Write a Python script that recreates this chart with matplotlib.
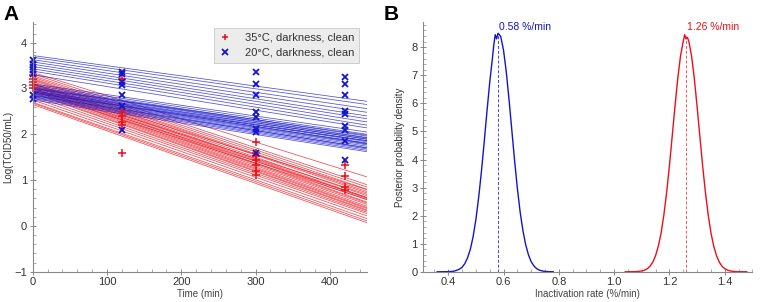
import numpy as np
import matplotlib
matplotlib.use('Agg')
import matplotlib.pyplot as plt
from matplotlib.ticker import MultipleLocator

# ---- panel A: observed titres ----
red_t = [0, 0, 0, 0, 0, 120, 120, 120, 120, 120, 120, 300, 300, 300, 300, 300, 300, 300, 420, 420, 420, 420]
red_y = [3.3, 3.21, 3.14, 3.07, 3.0, 3.21, 2.48, 2.4, 2.26, 2.2, 1.6, 1.84, 1.6, 1.52, 1.45, 1.34, 1.19, 1.12, 1.34, 1.08, 0.84, 0.79]
blue_t = [0, 0, 0, 0, 0, 0, 0, 120, 120, 120, 120, 120, 120, 120, 300, 300, 300, 300, 300, 300, 300, 300,
          420, 420, 420, 420, 420, 420, 420, 420, 420]
blue_y = [3.62, 3.54, 3.47, 3.4, 3.32, 2.85, 2.77, 3.37, 3.32, 3.14, 3.08, 2.85, 2.62, 2.09,
          3.36, 3.1, 2.85, 2.48, 2.37, 2.11, 2.04, 1.6, 3.25, 3.1, 2.85, 2.51, 2.44, 2.18, 2.09, 1.85, 1.45]

# posterior fit lines: value at t=0 and at t=450
red_start = [3.35, 3.32, 3.28, 3.25, 3.22, 3.2, 3.18, 3.15, 3.12, 3.1, 3.08, 3.05, 3.02, 3.0, 2.98,
             2.95, 2.92, 2.9, 2.85, 2.8, 2.75, 2.7, 2.68, 2.65, 3.1, 3.05, 3.0, 2.95]
red_end = [1.07, 0.9, 0.85, 0.8, 0.75, 0.72, 0.66, 0.62, 0.6, 0.57, 0.52, 0.5, 0.47, 0.43, 0.4,
           0.38, 0.35, 0.33, 0.3, 0.27, 0.22, 0.16, 0.11, 0.07, 0.79, 0.69, 0.62, 0.58]
blue_start = [3.72, 3.68, 3.63, 3.58, 3.53, 3.48, 3.43, 3.38, 3.3, 3.1, 3.07, 3.04, 3.02, 3.0, 2.98,
              2.95, 2.93, 2.9, 2.88, 2.86, 2.84, 2.82, 2.8, 2.78, 2.75, 2.95, 2.9, 3.0, 2.85, 2.92]
blue_end = [2.72, 2.65, 2.56, 2.48, 2.4, 2.34, 2.27, 2.2, 2.14, 2.05, 2.0, 1.96, 1.93, 1.92, 1.89,
            1.86, 1.84, 1.81, 1.79, 1.77, 1.74, 1.71, 1.68, 1.65, 1.62, 1.9, 1.86, 1.98, 1.7, 1.8]
t_line = [0, 450]

# ---- panel B: posterior densities ----
blue_x = [0.36, 0.40, 0.42, 0.43, 0.44, 0.45, 0.46, 0.47, 0.48, 0.49, 0.50, 0.51, 0.52, 0.53, 0.54,
          0.55, 0.56, 0.565, 0.57, 0.575, 0.58, 0.585, 0.59, 0.60, 0.61, 0.62, 0.63, 0.64, 0.65,
          0.66, 0.67, 0.68, 0.69, 0.70, 0.71, 0.72, 0.73, 0.74, 0.75, 0.76, 0.78]
blue_d = [0.0, 0.005, 0.02, 0.05, 0.09, 0.16, 0.29, 0.5, 0.8, 1.25, 1.86, 2.64, 3.56, 4.61, 5.7,
          6.74, 7.62, 8.1, 8.45, 8.3, 8.5, 8.45, 8.38, 7.9, 7.12, 6.13, 5.05, 3.97, 2.98,
          2.14, 1.48, 0.97, 0.61, 0.36, 0.21, 0.11, 0.06, 0.03, 0.015, 0.007, 0.0]
red_x = [1.04, 1.08, 1.10, 1.11, 1.12, 1.13, 1.14, 1.15, 1.16, 1.17, 1.18, 1.19, 1.20, 1.21, 1.22,
         1.23, 1.24, 1.25, 1.255, 1.26, 1.265, 1.27, 1.28, 1.29, 1.30, 1.31, 1.32, 1.33, 1.34, 1.35,
         1.36, 1.37, 1.38, 1.39, 1.40, 1.41, 1.42, 1.44, 1.48]
red_d = [0.0, 0.006, 0.03, 0.06, 0.11, 0.2, 0.35, 0.58, 0.92, 1.39, 2.04, 2.84, 3.78, 4.83, 5.89,
         6.88, 7.69, 8.22, 8.45, 8.3, 8.35, 8.22, 7.69, 6.88, 5.89, 4.83, 3.78, 2.84, 2.04, 1.39,
         0.92, 0.58, 0.35, 0.2, 0.11, 0.06, 0.03, 0.006, 0.0]
blue_rate = 0.58
red_rate = 1.26

RED = '#e8101a'
BLUE = '#1414cc'

plt.rcParams['font.family'] = 'Liberation Sans'
plt.rcParams['font.size'] = 7.5

fig = plt.figure(figsize=(7.6, 3.02), dpi=100)
axA = fig.add_axes([0.043, 0.1, 0.44, 0.827])
axB = fig.add_axes([0.557, 0.1, 0.433, 0.827])

for s, e in zip(red_start, red_end):
    axA.plot(t_line, [s, e], color=RED, lw=0.55, alpha=0.75)
for s, e in zip(blue_start, blue_end):
    axA.plot(t_line, [s, e], color=BLUE, lw=0.55, alpha=0.75)
axA.plot(red_t, red_y, '+', color=RED, ms=5.5, mew=1.1, ls='none', clip_on=False,
         label='35°C, darkness, clean')
axA.plot(blue_t, blue_y, 'x', color=BLUE, ms=5, mew=1.3, ls='none', clip_on=False,
         label='20°C, darkness, clean')
axA.set_xlim(0, 450)
axA.set_ylim(-1, 4.45)
axA.xaxis.set_major_locator(MultipleLocator(100))
axA.xaxis.set_minor_locator(MultipleLocator(20))
axA.yaxis.set_major_locator(MultipleLocator(1))
axA.yaxis.set_minor_locator(MultipleLocator(0.2))
axA.set_xlabel('Time (min)', fontsize=7, color='#444444', labelpad=1)
axA.set_ylabel('Log(TCID50/mL)', fontsize=7, color='#333333', labelpad=1)
leg = axA.legend(loc='upper right', fontsize=8, frameon=True, fancybox=False, markerscale=0.75,
                 handlelength=1.0, handletextpad=1.3, borderpad=0.45, labelspacing=0.45,
                 borderaxespad=0.4, bbox_to_anchor=(0.99, 0.995))
for txt in leg.get_texts():
    txt.set_color('#333333')
leg.get_frame().set_facecolor('#ececec')
leg.get_frame().set_edgecolor('#c8c8c8')
leg.get_frame().set_linewidth(0.6)
leg.get_frame().set_alpha(1)

axB.plot(blue_x, blue_d, color=BLUE, lw=1.0)
axB.plot(red_x, red_d, color=RED, lw=1.0)
axB.plot([blue_rate, blue_rate], [0, 8.5], color=BLUE, lw=0.7, ls=(0, (3, 2)), alpha=0.8)
axB.plot([red_rate, red_rate], [0, 8.45], color=RED, lw=0.7, ls=(0, (3, 2)), alpha=0.7)
axB.text(blue_rate + 0.003, 8.55, f'{blue_rate:.2f} %/min', color=BLUE, fontsize=7.5, va='bottom')
axB.text(red_rate + 0.003, 8.55, f'{red_rate:.2f} %/min', color=RED, fontsize=7.5, va='bottom')
axB.set_xlim(0.31, 1.5)
axB.set_ylim(0, 8.9)
axB.xaxis.set_major_locator(MultipleLocator(0.2))
axB.xaxis.set_minor_locator(MultipleLocator(0.05))
axB.yaxis.set_major_locator(MultipleLocator(1))
axB.yaxis.set_minor_locator(MultipleLocator(0.2))
axB.set_xlabel('Inactivation rate (%/min)', fontsize=7, color='#444444', labelpad=1)
axB.set_ylabel('Posterior probability density', fontsize=7, color='#333333', labelpad=5)

for ax in (axA, axB):
    for side in ('top', 'right'):
        ax.spines[side].set_visible(False)
    for side in ('left', 'bottom'):
        ax.spines[side].set_color('#888888')
        ax.spines[side].set_linewidth(0.8)
    ax.tick_params(which='major', direction='inout', length=4, width=0.7, color='#888888',
                   labelsize=8, labelcolor='#333333', pad=2)
    ax.tick_params(which='minor', direction='in', length=2, width=0.5, color='#888888')

fig.text(0.005, 0.985, 'A', fontsize=15, fontweight='bold', va='top')
fig.text(0.505, 0.985, 'B', fontsize=15, fontweight='bold', va='top')

fig.savefig('out.png', dpi=100)
